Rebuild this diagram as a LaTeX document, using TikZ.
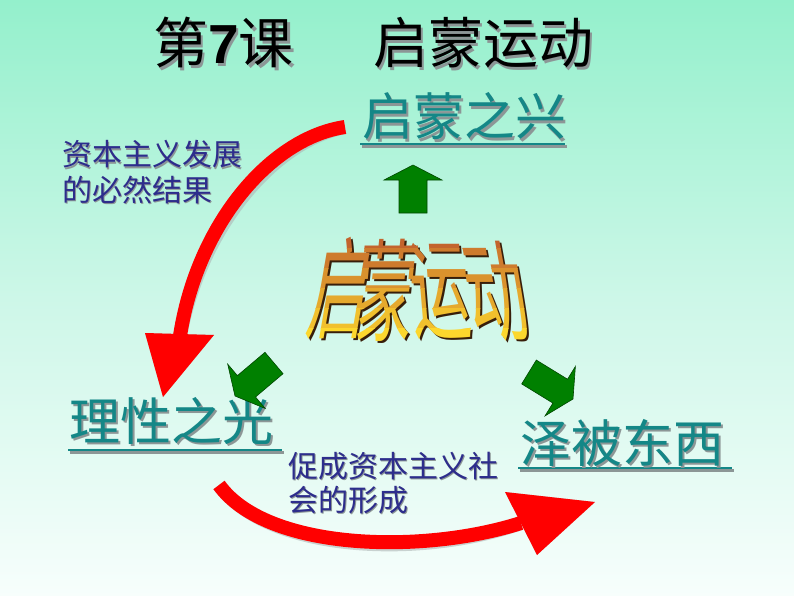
\documentclass[tikz,border=0pt]{standalone}
\usepackage{fontspec}
\newfontfamily\cjk{Noto Sans CJK SC}
\newfontfamily\arialb{Liberation Sans}
\usetikzlibrary{calc}
\definecolor{bgtop}{RGB}{148,240,204}
\definecolor{bgmid}{RGB}{205,247,232}
\definecolor{bgbot}{RGB}{247,254,252}
\definecolor{tealtxt}{RGB}{20,135,135}
\definecolor{navytxt}{RGB}{45,45,140}
\definecolor{arrred}{RGB}{255,0,0}
\definecolor{arrgreen}{RGB}{0,128,0}
\definecolor{arrgreendk}{RGB}{0,70,0}
\definecolor{waTop}{RGB}{195,100,45}
\definecolor{waBot}{RGB}{252,215,45}
\definecolor{waDark}{RGB}{55,30,10}
\definecolor{shad}{RGB}{140,150,150}
\newcommand\shtxt[3]{\makebox[0pt][l]{\kern#1\raisebox{-#2}{\color{shad}#3}}#3}
\tikzset{
  txt/.style={inner sep=0pt, anchor=base west},
  titletxt/.style={txt, font=\cjk\fontsize{55}{60}\selectfont, text=black},
  headtxt/.style={txt, font=\cjk\fontsize{51}{56}\selectfont, text=tealtxt},
  smalltxt/.style={txt, font=\cjk\fontsize{30}{34}\selectfont, text=navytxt},
  uline/.style={tealtxt, line width=2.5pt},
  redshaft/.style={arrred, line width=14pt},
  redhead/.style={fill=arrred},
  redshadow/.style={shad!70, opacity=0.6},
  greenarr/.style={fill=arrgreen, draw=arrgreendk, line width=0.6pt},
  watxt/.style={inner sep=0pt, anchor=south, font=\cjk\fontsize{60}{64}\selectfont, transform shape, yscale=1.85}
}
\newcommand\blockarrow[2]{%
  \draw[greenarr]
    ($(#1)!14pt!90:(#2)$) --
    ($($(#2)!15pt!(#1)$)!14pt!-90:(#1)$) --
    ($($(#2)!15pt!(#1)$)!29pt!-90:(#1)$) --
    (#2) --
    ($($(#2)!15pt!(#1)$)!29pt!90:(#1)$) --
    ($($(#2)!15pt!(#1)$)!14pt!90:(#1)$) --
    ($(#1)!14pt!-90:(#2)$) -- cycle;}
% word art characters: relative x, relative bottom y, slant, char
\newcommand\wachars[1]{%
  \begin{scope}[shift={(-85,52)}]\node[watxt, xslant=0.32, #1] {启};\end{scope}
  \begin{scope}[shift={(-35,54)}]\node[watxt, xslant=0.18, #1] {蒙};\end{scope}
  \begin{scope}[shift={(26,52)}]\node[watxt, xslant=-0.15, #1] {运};\end{scope}
  \begin{scope}[shift={(87,54)}]\node[watxt, xslant=-0.35, #1] {动};\end{scope}}
\begin{document}
\begin{tikzpicture}[x=1pt,y=-1pt]
\shade[top color=bgtop, bottom color=bgbot, middle color=bgmid] (0,0) rectangle (794,596);
\useasboundingbox (0,0) rectangle (794,596);

% title
\node[titletxt] (t1) at (153,64) {\shtxt{2.5pt}{2.5pt}{第{\arialb\bfseries 7}课}};
\node[titletxt] (t2) at (373,64) {\shtxt{2.5pt}{2.5pt}{启蒙运动}};

% red arrow 1 (top -> left)
\coordinate (a1s) at (345,127);
\coordinate (a1e) at (180,336);
\coordinate (a1l) at (145,333);
\coordinate (a1r) at (214,335);
\coordinate (a1t) at (163,397);
\begin{scope}[shift={(3,3)}]
  \draw[redshaft, redshadow] (a1s) .. controls (270,138) and (197,225) .. (a1e);
  \fill[redshadow] (a1l) -- (a1r) -- (a1t) -- cycle;
\end{scope}
\draw[redshaft] (a1s) .. controls (270,138) and (197,225) .. (a1e);
\fill[redhead] (a1l) -- (a1r) -- (a1t) -- cycle;

% red arrow 2 (left -> right)
\coordinate (a2s) at (219,485);
\coordinate (a2e) at (521,523);
\coordinate (a2l) at (505,492);
\coordinate (a2r) at (537,555);
\coordinate (a2t) at (595,502);
\begin{scope}[shift={(3,3)}]
  \draw[redshaft, redshadow] (a2s) .. controls (266,550) and (420,555) .. (a2e);
  \fill[redshadow] (a2l) -- (a2r) -- (a2t) -- cycle;
\end{scope}
\draw[redshaft] (a2s) .. controls (266,550) and (420,555) .. (a2e);
\fill[redhead] (a2l) -- (a2r) -- (a2t) -- cycle;

% headings
\draw[uline, shad] (362,146.5) -- (567,146.5);
\draw[uline] (360,144) -- (565,144);
\node[headtxt] (h1) at (362,136) {\shtxt{2pt}{2.5pt}{启蒙之兴}};

\draw[uline, shad] (70,452.5) -- (284,452.5);
\draw[uline] (68,450) -- (282,450);
\node[headtxt] (h2) at (69,440) {\shtxt{2pt}{2.5pt}{理性之光}};

\draw[uline, shad] (520,470.5) -- (734,470.5);
\draw[uline] (518,468) -- (732,468);
\node[headtxt] (h3) at (520,462) {\shtxt{2pt}{2.5pt}{泽被东西}};

% side texts
\node[smalltxt] (s1) at (62,166) {\shtxt{1.5pt}{1.5pt}{资本主义发展}};
\node[smalltxt] (s2) at (62,201) {\shtxt{1.5pt}{1.5pt}{的必然结果}};
\node[smalltxt] (s3) at (288,477) {\shtxt{1.5pt}{1.5pt}{促成资本主义社}};
\node[smalltxt] (s4) at (288,511) {\shtxt{1.5pt}{1.5pt}{会的形成}};

% green block arrows
\coordinate (g1a) at (413,213);
\coordinate (g1b) at (413,165);
\blockarrow{g1a}{g1b}
\coordinate (g2a) at (274,363);
\coordinate (g2b) at (235,396);
\blockarrow{g2a}{g2b}
\coordinate (g3a) at (529,372);
\coordinate (g3b) at (573,399);
\blockarrow{g3a}{g3b}

% word art: dark outline/shadow, then banded orange-to-yellow fill
\begin{scope}[shift={(420,290)}]
  \wachars{text=waDark}
\end{scope}
\foreach \i in {0,...,5} {
  \pgfmathsetmacro\ya{228+\i*20}
  \pgfmathsetmacro\yb{\ya+20.5}
  \pgfmathsetmacro\pp{100-\i*20}
  \begin{scope}
    \clip (260,\ya) rectangle (580,\yb);
    \begin{scope}[shift={(418,288)}]
      \wachars{text=waTop!\pp!waBot}
    \end{scope}
  \end{scope}
}
\end{tikzpicture}
\end{document}
